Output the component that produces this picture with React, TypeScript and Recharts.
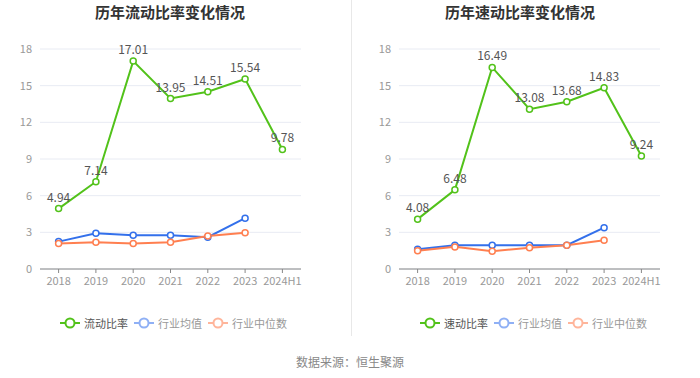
import React from 'react';
import { LineChart, Line, XAxis, YAxis, CartesianGrid, LabelList } from 'recharts';

const years = ['2018', '2019', '2020', '2021', '2022', '2023', '2024H1'];
const currentRatio = [4.94, 7.14, 17.01, 13.95, 14.51, 15.54, 9.78];
const currentIndustryAvg = [2.24, 2.92, 2.76, 2.76, 2.6, 4.16, null];
const currentIndustryMedian = [2.08, 2.19, 2.08, 2.19, 2.7, 2.97, null];
const quickRatio = [4.08, 6.48, 16.49, 13.08, 13.68, 14.83, 9.24];
const quickIndustryAvg = [1.62, 1.95, 1.95, 1.95, 1.95, 3.38, null];
const quickIndustryMedian = [1.49, 1.81, 1.46, 1.73, 1.95, 2.35, null];
const yTicks = [0, 3, 6, 9, 12, 15, 18];

const GREEN = '#52c21a';
const BLUE = '#3370eb';
const ORANGE = '#ff7f50';
const FONT = '"Noto Sans CJK SC", "Noto Sans", sans-serif';

function build(main: number[], avg: (number | null)[], med: (number | null)[]) {
  return years.map((y, i) => ({ year: y, main: main[i], avg: avg[i], med: med[i] }));
}

const dot = (color: string) => ({ r: 3, fill: '#fff', stroke: color, strokeWidth: 1.5 });

function LegendItem({ color, label, textColor }: { color: string; label: string; textColor: string }) {
  return (
    <div style={{ display: 'flex', alignItems: 'center', marginRight: 6 }}>
      <svg width={20} height={12} style={{ marginRight: 4 }}>
        <line x1={0} y1={6} x2={20} y2={6} stroke={color} strokeWidth={2} />
        <circle cx={10} cy={6} r={4.5} fill="#fff" stroke={color} strokeWidth={2} />
      </svg>
      <span style={{ color: textColor, fontSize: 11 }}>{label}</span>
    </div>
  );
}

function Panel({
  left, title, mainName, data, yWidth, rightMargin, legendLeft,
}: {
  left: number; title: string; mainName: string; data: any[]; yWidth: number; rightMargin: number; legendLeft: number;
}) {
  return (
    <div style={{ position: 'absolute', left, top: 0, width: 350, height: 378 }}>
      <div style={{ position: 'absolute', left: 0, width: 340, top: 1, textAlign: 'center', fontSize: 15, fontWeight: 'bold', color: '#333' }}>
        {title}
      </div>
      <LineChart width={350} height={378} data={data} margin={{ top: 49, right: rightMargin, bottom: 79, left: 0 }}>
        <CartesianGrid vertical={false} stroke="#e8ebf3" />
        <XAxis
          dataKey="year"
          height={30}
          stroke="#888"
          tickSize={4}
          tickMargin={4}
          padding={{ left: 18.6, right: 18.6 }}
          tick={{ fill: '#999', fontSize: 11, fontFamily: FONT }}
          interval={0}
        />
        <YAxis
          width={yWidth}
          domain={[0, 18]}
          ticks={yTicks}
          axisLine={false}
          tickLine={false}
          tick={{ fill: '#999', fontSize: 11, fontFamily: FONT }}
        />
        <Line type="linear" dataKey="main" name={mainName} stroke={GREEN} strokeWidth={2} dot={dot(GREEN)} isAnimationActive={false}>
          <LabelList dataKey="main" position="top" offset={7} fill="#555" fontSize={12} fontFamily={FONT} />
        </Line>
        <Line type="linear" dataKey="avg" name="行业均值" stroke={BLUE} strokeWidth={2} dot={dot(BLUE)} isAnimationActive={false} connectNulls={false} />
        <Line type="linear" dataKey="med" name="行业中位数" stroke={ORANGE} strokeWidth={2} dot={dot(ORANGE)} isAnimationActive={false} connectNulls={false} />
      </LineChart>
      <div style={{ position: 'absolute', left: legendLeft, top: 315, display: 'flex', alignItems: 'center' }}>
        <LegendItem color={GREEN} label={mainName} textColor="#555" />
        <LegendItem color="#8fb0f5" label="行业均值" textColor="#999" />
        <LegendItem color="#ffb59b" label="行业中位数" textColor="#999" />
      </div>
    </div>
  );
}

export default function App() {
  return (
    <div style={{ position: 'fixed', left: 0, top: 0, width: 700, height: 378, background: '#fff', fontFamily: FONT }}>
      <Panel left={0} title="历年流动比率变化情况" mainName="流动比率" data={build(currentRatio, currentIndustryAvg, currentIndustryMedian)} yWidth={40} rightMargin={49} legendLeft={60} />
      <Panel left={350} title="历年速动比率变化情况" mainName="速动比率" data={build(quickRatio, quickIndustryAvg, quickIndustryMedian)} yWidth={49} rightMargin={40} legendLeft={70} />
      <div style={{ position: 'absolute', left: 351, top: 0, width: 1, height: 336, background: '#e8e8e8' }} />
      <div style={{ position: 'absolute', left: 0, width: 700, top: 353, textAlign: 'center', fontSize: 12, color: '#888' }}>
        数据来源：恒生聚源
      </div>
    </div>
  );
}
